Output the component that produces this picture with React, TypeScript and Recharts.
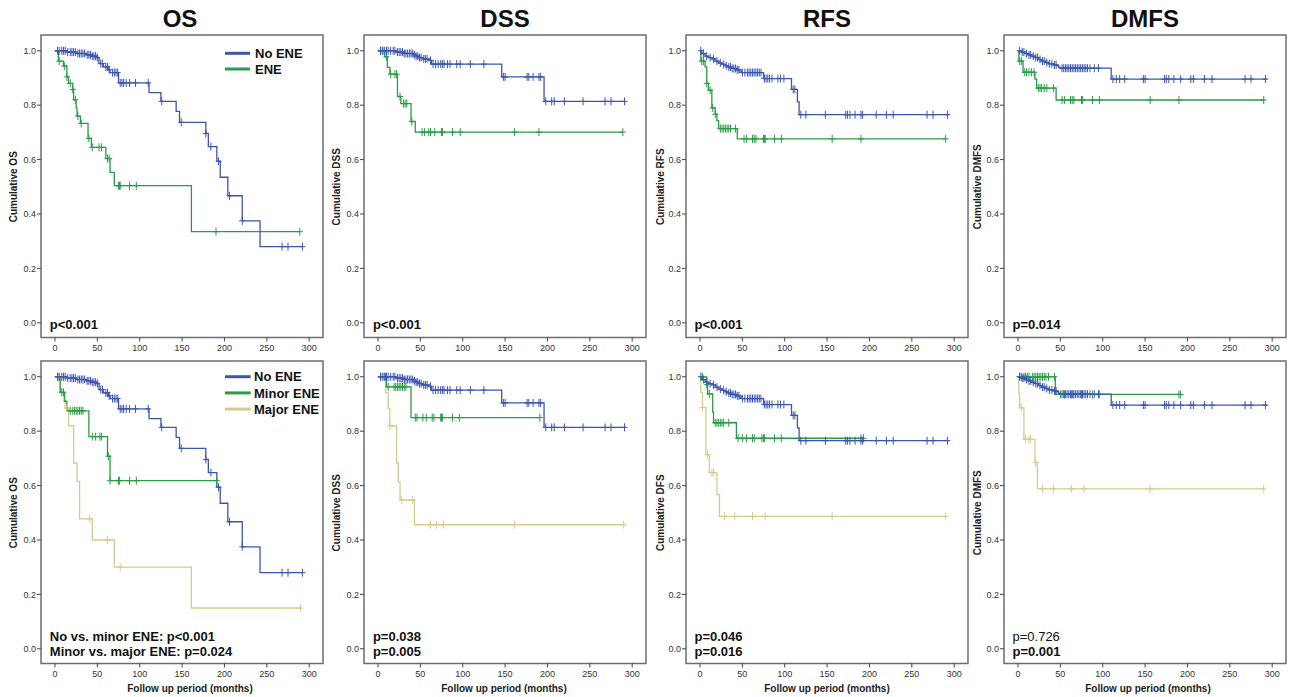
import { ComposedChart, Line, Scatter, XAxis, YAxis, ReferenceArea } from "recharts";

/* ---- survival curves: event times, survival after each event, last follow-up, censor times ---- */

const OS_NO_T = [0, 14, 25, 37, 43, 49, 52, 57, 63, 65, 75, 111, 125, 143, 147, 178, 181, 191, 195, 204, 221, 242];
const OS_NO_S = [1, 0.995, 0.99, 0.985, 0.98, 0.975, 0.953, 0.941, 0.93, 0.92, 0.882, 0.846, 0.814, 0.777, 0.737, 0.696, 0.648, 0.594, 0.535, 0.467, 0.375, 0.28];
const OS_NO_END = 292;
const OS_NO_CENS = [3, 5, 8, 10, 12, 15, 18, 20, 22, 24, 27, 29, 31, 33, 35, 38, 40, 42, 44, 46, 48, 50, 54, 56, 60, 62, 64, 68, 70, 72, 74, 77, 79, 81, 84, 88, 95, 110, 126, 149, 178, 184, 193, 206, 221, 268, 275, 292];

const OS_ENE_T = [0, 4, 10, 14, 16, 21, 22, 25, 26, 30, 39, 43, 60, 65, 70, 161];
const OS_ENE_S = [1, 0.962, 0.944, 0.904, 0.88, 0.858, 0.82, 0.79, 0.76, 0.733, 0.678, 0.645, 0.604, 0.553, 0.504, 0.335];
const OS_ENE_END = 289;
const OS_ENE_CENS = [5, 11, 14, 18, 21, 24, 27, 31, 40, 44, 52, 55, 62, 64, 75, 76, 77, 88, 96, 190, 289];

const OS_MINOR_T = [0, 6, 11, 14, 40, 62, 65];
const OS_MINOR_S = [1, 0.943, 0.91, 0.875, 0.78, 0.708, 0.618];
const OS_MINOR_END = 191;
const OS_MINOR_CENS = [8, 10, 18, 21, 23, 25, 27, 29, 31, 33, 44, 48, 53, 55, 63, 65, 75, 76, 88, 96, 191];

const OS_MAJOR_T = [0, 7, 12, 16, 22, 26, 29, 44, 70, 161];
const OS_MAJOR_S = [1, 0.94, 0.885, 0.82, 0.683, 0.615, 0.478, 0.4, 0.3, 0.15];
const OS_MAJOR_END = 290;
const OS_MAJOR_CENS = [4, 14, 41, 62, 77, 290];

const DSS_NO_T = [0, 21, 31, 42, 45, 48, 52, 60, 63, 146, 196];
const DSS_NO_S = [1, 0.995, 0.99, 0.985, 0.98, 0.975, 0.97, 0.965, 0.951, 0.904, 0.814];
const DSS_NO_END = 292;
const DSS_NO_CENS = [3, 5, 8, 10, 12, 15, 18, 20, 23, 25, 27, 29, 31, 33, 35, 37, 39, 41, 43, 45, 47, 49, 51, 54, 56, 58, 62, 65, 68, 71, 74, 76, 78, 82, 85, 93, 97, 109, 125, 148, 150, 176, 178, 183, 190, 192, 198, 205, 208, 220, 242, 268, 275, 291];

const DSS_ENE_T = [0, 8, 11, 14, 23, 27, 39, 44];
const DSS_ENE_S = [1, 0.978, 0.939, 0.914, 0.832, 0.806, 0.74, 0.701];
const DSS_ENE_END = 289;
const DSS_ENE_CENS = [3, 6, 10, 15, 20, 22, 26, 30, 32, 34, 40, 52, 55, 60, 62, 67, 75, 76, 88, 97, 161, 190, 289];

const DSS_MINOR_T = [0, 10, 39];
const DSS_MINOR_S = [1, 0.963, 0.85];
const DSS_MINOR_END = 191;
const DSS_MINOR_CENS = [7, 9, 12, 19, 21, 23, 25, 27, 29, 31, 33, 44, 46, 53, 57, 64, 66, 74, 75, 76, 88, 96, 191];

const DSS_MAJOR_T = [0, 9, 12, 14, 22, 24, 26, 43];
const DSS_MAJOR_S = [1, 0.941, 0.884, 0.819, 0.683, 0.614, 0.547, 0.456];
const DSS_MAJOR_END = 290;
const DSS_MAJOR_CENS = [3, 14, 28, 41, 62, 69, 77, 161, 290];

const RFS_NO_T = [0, 2, 6, 10, 14, 18, 22, 26, 30, 33, 37, 43, 47, 49, 75, 108, 115, 117];
const RFS_NO_S = [1, 0.99, 0.98, 0.975, 0.97, 0.962, 0.955, 0.95, 0.945, 0.94, 0.935, 0.93, 0.925, 0.92, 0.898, 0.858, 0.812, 0.765];
const RFS_NO_END = 294;
const RFS_NO_CENS = [1, 4, 8, 12, 16, 20, 24, 28, 31, 34, 36, 38, 40, 42, 44, 46, 50, 53, 56, 58, 60, 62, 64, 66, 68, 70, 72, 76, 78, 80, 82, 85, 92, 95, 99, 110, 112, 119, 125, 148, 172, 174, 177, 183, 190, 192, 208, 220, 228, 268, 275, 292];

const RFS_ENE_T = [0, 1, 6, 8, 10, 14, 18, 20, 22, 44];
const RFS_ENE_S = [1, 0.962, 0.941, 0.88, 0.855, 0.79, 0.767, 0.743, 0.714, 0.676];
const RFS_ENE_END = 290;
const RFS_ENE_CENS = [2, 4, 8, 12, 15, 18, 24, 26, 28, 30, 32, 34, 36, 42, 52, 55, 62, 64, 66, 75, 76, 77, 88, 96, 156, 190, 290];

const DFS_MINOR_T = [0, 8, 9, 15, 16, 43];
const DFS_MINOR_S = [1, 0.971, 0.937, 0.87, 0.831, 0.774];
const DFS_MINOR_END = 193;
const DFS_MINOR_CENS = [3, 8, 11, 18, 20, 22, 24, 26, 28, 34, 45, 50, 55, 62, 64, 73, 75, 76, 88, 96, 190, 193];

const DFS_MAJOR_T = [0, 1, 3, 7, 11, 20, 23];
const DFS_MAJOR_S = [1, 0.943, 0.887, 0.714, 0.648, 0.567, 0.487];
const DFS_MAJOR_END = 290;
const DFS_MAJOR_CENS = [3, 9, 14, 16, 29, 41, 62, 77, 156, 290];

const DMFS_NO_T = [0, 4, 8, 12, 16, 20, 24, 28, 32, 36, 42, 46, 48, 50, 110];
const DMFS_NO_S = [1, 0.995, 0.99, 0.985, 0.98, 0.975, 0.968, 0.962, 0.957, 0.952, 0.948, 0.945, 0.939, 0.936, 0.896];
const DMFS_NO_END = 294;
const DMFS_NO_CENS = [2, 5, 7, 10, 13, 15, 18, 21, 23, 26, 29, 31, 34, 37, 40, 43, 45, 52, 54, 56, 58, 60, 62, 64, 66, 68, 70, 72, 74, 76, 78, 80, 82, 85, 90, 95, 112, 116, 120, 126, 148, 150, 173, 175, 178, 184, 192, 204, 207, 220, 229, 268, 275, 292];

const DMFS_ENE_T = [0, 1, 6, 20, 22, 45];
const DMFS_ENE_S = [1, 0.962, 0.921, 0.896, 0.863, 0.819];
const DMFS_ENE_END = 291;
const DMFS_ENE_CENS = [2, 4, 8, 10, 13, 16, 19, 24, 26, 28, 31, 34, 42, 52, 55, 62, 64, 66, 75, 76, 88, 96, 156, 190, 290];

const DMFS_MINOR_T = [0, 44];
const DMFS_MINOR_S = [1, 0.935];
const DMFS_MINOR_END = 192;
const DMFS_MINOR_CENS = [2, 4, 7, 9, 11, 13, 17, 19, 21, 23, 25, 27, 29, 31, 33, 36, 43, 50, 55, 63, 65, 75, 76, 88, 96, 190, 192];

const DMFS_MAJOR_T = [0, 1, 2, 7, 20, 23];
const DMFS_MAJOR_S = [1, 0.94, 0.886, 0.77, 0.685, 0.588];
const DMFS_MAJOR_END = 290;
const DMFS_MAJOR_CENS = [4, 9, 13, 15, 21, 29, 42, 63, 78, 156, 290];

const X_TICKS = [0, 50, 100, 150, 200, 250, 300];
const Y_TICKS = [0, 0.2, 0.4, 0.6, 0.8, 1.0];

/* ---- look ---- */
const BLUE = "#3c56b0";
const GREEN = "#2a9c48";
const TAN = "#d8c98c";
const FONT = "'Liberation Sans', Arial, sans-serif";

const X_MIN = -16.5;
const X_MAX = 316.3;
const Y_MIN = -0.054;
const Y_MAX = 1.058;
const PLOT_W = 282;
const PLOT_H = 302.5;
const Y_AXIS_W = 34;
const X_AXIS_H = 22;
const PAD = 4;

const COL_LEFT = [41.3, 364.4, 686, 1004];
const ROW_TOP = [34.5, 360.5];

type Curve = { t: number[]; s: number[]; end: number; cens: number[]; color: string };

const curve = (t: number[], s: number[], end: number, cens: number[], color: string): Curve => ({ t, s, end, cens, color });

const OS_NO = curve(OS_NO_T, OS_NO_S, OS_NO_END, OS_NO_CENS, BLUE);
const OS_ENE = curve(OS_ENE_T, OS_ENE_S, OS_ENE_END, OS_ENE_CENS, GREEN);
const OS_MINOR = curve(OS_MINOR_T, OS_MINOR_S, OS_MINOR_END, OS_MINOR_CENS, GREEN);
const OS_MAJOR = curve(OS_MAJOR_T, OS_MAJOR_S, OS_MAJOR_END, OS_MAJOR_CENS, TAN);
const DSS_NO = curve(DSS_NO_T, DSS_NO_S, DSS_NO_END, DSS_NO_CENS, BLUE);
const DSS_ENE = curve(DSS_ENE_T, DSS_ENE_S, DSS_ENE_END, DSS_ENE_CENS, GREEN);
const DSS_MINOR = curve(DSS_MINOR_T, DSS_MINOR_S, DSS_MINOR_END, DSS_MINOR_CENS, GREEN);
const DSS_MAJOR = curve(DSS_MAJOR_T, DSS_MAJOR_S, DSS_MAJOR_END, DSS_MAJOR_CENS, TAN);
const RFS_NO = curve(RFS_NO_T, RFS_NO_S, RFS_NO_END, RFS_NO_CENS, BLUE);
const RFS_ENE = curve(RFS_ENE_T, RFS_ENE_S, RFS_ENE_END, RFS_ENE_CENS, GREEN);
const DFS_MINOR = curve(DFS_MINOR_T, DFS_MINOR_S, DFS_MINOR_END, DFS_MINOR_CENS, GREEN);
const DFS_MAJOR = curve(DFS_MAJOR_T, DFS_MAJOR_S, DFS_MAJOR_END, DFS_MAJOR_CENS, TAN);
const DMFS_NO = curve(DMFS_NO_T, DMFS_NO_S, DMFS_NO_END, DMFS_NO_CENS, BLUE);
const DMFS_ENE = curve(DMFS_ENE_T, DMFS_ENE_S, DMFS_ENE_END, DMFS_ENE_CENS, GREEN);
const DMFS_MINOR = curve(DMFS_MINOR_T, DMFS_MINOR_S, DMFS_MINOR_END, DMFS_MINOR_CENS, GREEN);
const DMFS_MAJOR = curve(DMFS_MAJOR_T, DMFS_MAJOR_S, DMFS_MAJOR_END, DMFS_MAJOR_CENS, TAN);

type PText = { text: string; bold: boolean };
type Panel = { col: number; row: number; yLabel: string; curves: Curve[]; p: PText[] };

const PANELS: Panel[] = [
  { col: 0, row: 0, yLabel: "Cumulative OS", curves: [OS_ENE, OS_NO], p: [{ text: "p<0.001", bold: true }] },
  { col: 1, row: 0, yLabel: "Cumulative DSS", curves: [DSS_ENE, DSS_NO], p: [{ text: "p<0.001", bold: true }] },
  { col: 2, row: 0, yLabel: "Cumulative RFS", curves: [RFS_ENE, RFS_NO], p: [{ text: "p<0.001", bold: true }] },
  { col: 3, row: 0, yLabel: "Cumulative DMFS", curves: [DMFS_ENE, DMFS_NO], p: [{ text: "p=0.014", bold: true }] },
  {
    col: 0, row: 1, yLabel: "Cumulative OS", curves: [OS_MAJOR, OS_MINOR, OS_NO],
    p: [{ text: "No vs. minor ENE: p<0.001", bold: true }, { text: "Minor vs. major ENE: p=0.024", bold: true }],
  },
  { col: 1, row: 1, yLabel: "Cumulative DSS", curves: [DSS_MAJOR, DSS_MINOR, DSS_NO], p: [{ text: "p=0.038", bold: true }, { text: "p=0.005", bold: true }] },
  { col: 2, row: 1, yLabel: "Cumulative DFS", curves: [DFS_MAJOR, DFS_MINOR, RFS_NO], p: [{ text: "p=0.046", bold: true }, { text: "p=0.016", bold: true }] },
  { col: 3, row: 1, yLabel: "Cumulative DMFS", curves: [DMFS_MAJOR, DMFS_MINOR, DMFS_NO], p: [{ text: "p=0.726", bold: false }, { text: "p=0.001", bold: true }] },
];

const TITLES = ["OS", "DSS", "RFS", "DMFS"];
const TITLE_X = [180, 505, 827, 1145];
const YLABEL_X = [13.3, 336.7, 660, 977];
const XLABEL_X = [190, 504, 827, 1148];

const LEGEND_TOP = [{ label: "No ENE", color: BLUE }, { label: "ENE", color: GREEN }];
const LEGEND_BOTTOM = [{ label: "No ENE", color: BLUE }, { label: "Minor ENE", color: GREEN }, { label: "Major ENE", color: TAN }];

function stepValue(c: Curve, x: number) {
  let v = c.s[0];
  c.t.forEach((t, i) => {
    if (t <= x) v = c.s[i];
  });
  return v;
}

const lineData = (c: Curve) => [...c.t.map((t, i) => ({ x: t, y: c.s[i] })), { x: c.end, y: c.s[c.s.length - 1] }];
const censorData = (c: Curve) => c.cens.map((x) => ({ x, y: stepValue(c, x) }));

function censorShape(color: string) {
  return (p: any) => (
    <g>
      <line x1={p.cx} x2={p.cx} y1={p.cy - 4} y2={p.cy + 4} stroke={color} strokeWidth={1} />
      <line x1={p.cx - 3} x2={p.cx + 3} y1={p.cy} y2={p.cy} stroke={color} strokeWidth={1} />
    </g>
  );
}

function KMPanel({ panel }: { panel: Panel }) {
  const left = COL_LEFT[panel.col];
  const top = ROW_TOP[panel.row];
  return (
    <div style={{ position: "absolute", left: left - Y_AXIS_W, top: top - PAD }}>
      <ComposedChart
        width={PLOT_W + Y_AXIS_W + PAD}
        height={PLOT_H + PAD + X_AXIS_H}
        margin={{ top: PAD, right: PAD, bottom: 0, left: 0 }}
      >
        <XAxis
          type="number"
          dataKey="x"
          domain={[X_MIN, X_MAX]}
          ticks={X_TICKS}
          allowDataOverflow
          height={X_AXIS_H}
          axisLine={false}
          tickSize={4}
          tickMargin={3}
          tickLine={{ stroke: "#444" }}
          tick={{ fontSize: 9, fill: "#333", fontFamily: FONT }}
        />
        <YAxis
          type="number"
          dataKey="y"
          domain={[Y_MIN, Y_MAX]}
          ticks={Y_TICKS}
          allowDataOverflow
          width={Y_AXIS_W}
          axisLine={false}
          tickSize={4}
          tickMargin={1}
          tickLine={{ stroke: "#444" }}
          tick={{ fontSize: 9, fill: "#333", fontFamily: FONT }}
          tickFormatter={(v: number) => v.toFixed(1)}
        />
        <ReferenceArea x1={X_MIN} x2={X_MAX} y1={Y_MIN} y2={Y_MAX} fill="none" stroke="#6e6e6e" strokeWidth={1.5} />
        {panel.curves.map((c, i) => (
          <Line
            key={"l" + i}
            data={lineData(c)}
            dataKey="y"
            type="stepAfter"
            stroke={c.color}
            strokeWidth={1.3}
            dot={false}
            activeDot={false}
            isAnimationActive={false}
          />
        ))}
        {panel.curves.map((c, i) => (
          <Scatter
            key={"s" + i}
            data={censorData(c)}
            dataKey="y"
            fill={c.color}
            shape={censorShape(c.color)}
            isAnimationActive={false}
          />
        ))}
      </ComposedChart>
    </div>
  );
}

export default function App() {
  return (
    <div style={{ position: "absolute", left: 0, top: 0, width: 1289, height: 697, background: "#fff", fontFamily: FONT }}>
      {PANELS.map((p, i) => (
        <KMPanel key={i} panel={p} />
      ))}
      <svg width={1289} height={697} style={{ position: "absolute", left: 0, top: 0, pointerEvents: "none" }} fontFamily={FONT}>
        {TITLES.map((t, i) => (
          <text key={t} x={TITLE_X[i]} y={26.5} textAnchor="middle" fontSize={24} fontWeight="bold" fill="#111">
            {t}
          </text>
        ))}
        {PANELS.map((p, i) => {
          const cy = ROW_TOP[p.row] + PLOT_H / 2 + 1;
          const x = YLABEL_X[p.col];
          return (
            <text key={"y" + i} x={x} y={cy} transform={`rotate(-90 ${x} ${cy})`} textAnchor="middle" dominantBaseline="central" fontSize={10} fontWeight="bold" fill="#222">
              {p.yLabel}
            </text>
          );
        })}
        {XLABEL_X.map((x, i) => (
          <text key={"x" + i} x={x} y={691.5} textAnchor="middle" fontSize={10} fontWeight="bold" fill="#222">
            Follow up period (months)
          </text>
        ))}
        {PANELS.map((p, i) => {
          const base = p.row === 0 ? [328.5] : [640.5, 655.5];
          return p.p.map((pt, j) => (
            <text key={"p" + i + j} x={COL_LEFT[p.col] + 8.5} y={base[j]} fontSize={13} fontWeight={pt.bold ? "bold" : "normal"} fill="#111">
              {pt.text}
            </text>
          ));
        })}
        {LEGEND_TOP.map((l, i) => (
          <g key={"lt" + i}>
            <line x1={225} x2={250} y1={53.3 + i * 15.7} y2={53.3 + i * 15.7} stroke={l.color} strokeWidth={3} />
            <text x={255} y={58 + i * 15.7} fontSize={13} fontWeight="bold" fill="#111">{l.label}</text>
          </g>
        ))}
        {LEGEND_BOTTOM.map((l, i) => (
          <g key={"lb" + i}>
            <line x1={225} x2={250.7} y1={376.7 + i * 16.2} y2={376.7 + i * 16.2} stroke={l.color} strokeWidth={3} />
            <text x={254} y={381.4 + i * 16.2} fontSize={13} fontWeight="bold" fill="#111">{l.label}</text>
          </g>
        ))}
      </svg>
    </div>
  );
}
